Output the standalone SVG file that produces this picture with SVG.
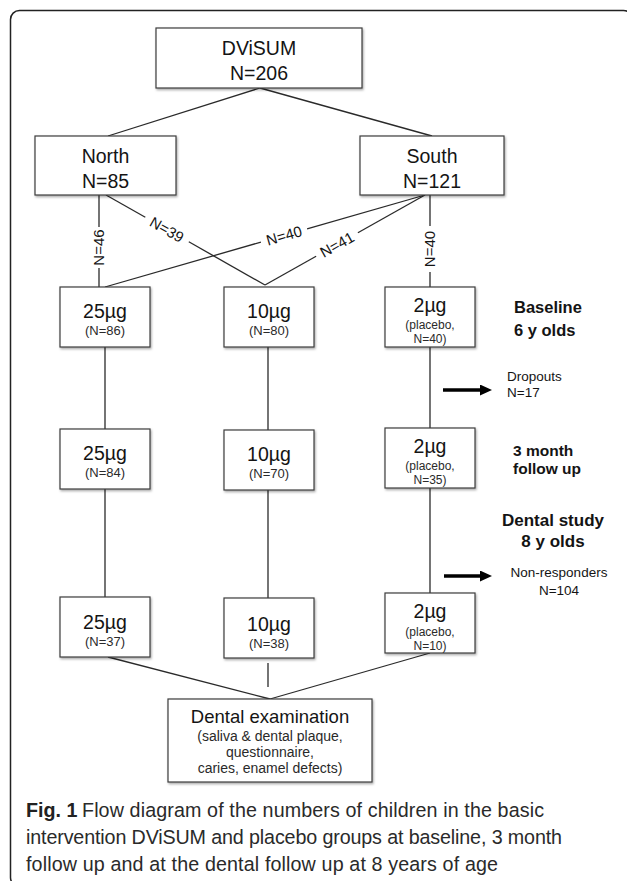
<svg xmlns="http://www.w3.org/2000/svg" width="627" height="881" viewBox="0 0 627 881">
<defs>
<filter id="sh" x="-10%" y="-10%" width="130%" height="130%">
<feDropShadow dx="1" dy="1.5" stdDeviation="0.8" flood-color="#000" flood-opacity="0.35"/>
</filter>
<marker id="ah" viewBox="0 0 12 11" refX="1" refY="5.5" markerWidth="12" markerHeight="11" markerUnits="userSpaceOnUse" orient="auto">
<path d="M0,0 L12,5.5 L0,11 z" fill="#000"/>
</marker>
</defs>
<style>
.box{fill:#fff;stroke:#3c3c3c;stroke-width:1.2;filter:url(#sh)}
.ln{stroke:#2a2a2a;stroke-width:1.3;fill:none}
.arr{stroke:#000;stroke-width:3.5;fill:none}
text{font-family:"Liberation Sans",Arial,sans-serif;fill:#141414}
.m{font-size:19.5px;text-anchor:middle}
.s{font-size:13px;text-anchor:middle;fill:#2a2a2a}
.p{font-size:12px;text-anchor:middle;fill:#2a2a2a}
.lab{font-size:15px;text-anchor:middle}
.b{font-weight:bold}
.side{font-size:13.5px}
.cap{font-size:19.7px;fill:#2a2a2a}
</style>
<rect x="10.5" y="10.5" width="622" height="876" rx="9" fill="none" stroke="#222" stroke-width="1.5"/>

<g id="connectors">
<line class="ln" x1="260" y1="88" x2="108" y2="136"/>
<line class="ln" x1="260" y1="88" x2="432" y2="136"/>
<line class="ln" x1="99" y1="195" x2="99" y2="227"/>
<line class="ln" x1="99" y1="268" x2="99" y2="287"/>
<line class="ln" x1="106" y1="195" x2="145.3" y2="217.2"/>
<line class="ln" x1="188.8" y1="241.8" x2="265" y2="285"/>
<line class="ln" x1="425" y1="195" x2="307.1" y2="228.9"/>
<line class="ln" x1="260.9" y1="242.1" x2="105" y2="287"/>
<line class="ln" x1="425" y1="195" x2="357.9" y2="232.7"/>
<line class="ln" x1="316.1" y1="256.3" x2="265" y2="285"/>
<line class="ln" x1="430" y1="195" x2="430" y2="226"/>
<line class="ln" x1="430" y1="272" x2="430" y2="287"/>
<line class="ln" x1="105" y1="347" x2="105" y2="429"/>
<line class="ln" x1="105" y1="489" x2="105" y2="597"/>
<line class="ln" x1="268" y1="347" x2="268" y2="430"/>
<line class="ln" x1="268" y1="490" x2="268" y2="598"/>
<line class="ln" x1="430" y1="347" x2="430" y2="428"/>
<line class="ln" x1="430" y1="488" x2="430" y2="593"/>
<line class="ln" x1="108" y1="657" x2="270" y2="699"/>
<line class="ln" x1="430" y1="653" x2="270" y2="699"/>
<line class="ln" x1="268" y1="663" x2="268" y2="687"/>
<text class="lab" transform="translate(99,247.5) rotate(-90)" x="0" y="5.4">N=46</text>
<text class="lab" transform="translate(167,229.5) rotate(29.5)" x="0" y="5.4">N=39</text>
<text class="lab" transform="translate(284,235.5) rotate(-16)" x="0" y="5.4">N=40</text>
<text class="lab" transform="translate(337,244.5) rotate(-29.4)" x="0" y="5.4">N=41</text>
<text class="lab" transform="translate(430,249) rotate(-90)" x="0" y="5.4">N=40</text>
<line class="arr" x1="443" y1="390" x2="481" y2="390" marker-end="url(#ah)"/>
<line class="arr" x1="444" y1="576" x2="481" y2="576" marker-end="url(#ah)"/>
</g>

<g id="dvisum">
<rect class="box" x="156" y="28" width="206" height="60"/>
<text class="m" x="259" y="55">DViSUM</text>
<text class="m" x="259" y="80">N=206</text>
</g>
<g id="north">
<rect class="box" x="35" y="136" width="141" height="59"/>
<text class="m" x="105.5" y="163">North</text>
<text class="m" x="105.5" y="188">N=85</text>
</g>
<g id="south">
<rect class="box" x="360" y="136" width="144" height="59"/>
<text class="m" x="432" y="163">South</text>
<text class="m" x="432" y="188">N=121</text>
</g>

<g id="b25-1">
<rect class="box" x="60" y="287" width="90" height="60"/>
<text class="m" x="105" y="318">25µg</text>
<text class="s" x="105" y="335">(N=86)</text>
</g>
<g id="b10-1">
<rect class="box" x="224" y="287" width="90" height="60"/>
<text class="m" x="269" y="318">10µg</text>
<text class="s" x="269" y="335">(N=80)</text>
</g>
<g id="b2-1">
<rect class="box" x="385" y="287" width="90" height="60"/>
<text class="m" x="430" y="312">2µg</text>
<text class="p" x="430" y="329">(placebo,</text>
<text class="p" x="430" y="343">N=40)</text>
</g>

<g id="b25-2">
<rect class="box" x="60" y="429" width="90" height="60"/>
<text class="m" x="105" y="460">25µg</text>
<text class="s" x="105" y="477">(N=84)</text>
</g>
<g id="b10-2">
<rect class="box" x="224" y="430" width="90" height="60"/>
<text class="m" x="269" y="461">10µg</text>
<text class="s" x="269" y="478">(N=70)</text>
</g>
<g id="b2-2">
<rect class="box" x="385" y="428" width="90" height="60"/>
<text class="m" x="430" y="453">2µg</text>
<text class="p" x="430" y="470">(placebo,</text>
<text class="p" x="430" y="484">N=35)</text>
</g>

<g id="b25-3">
<rect class="box" x="60" y="597" width="90" height="60"/>
<text class="m" x="105" y="629">25µg</text>
<text class="s" x="105" y="646">(N=37)</text>
</g>
<g id="b10-3">
<rect class="box" x="224" y="598" width="90" height="60"/>
<text class="m" x="269" y="631">10µg</text>
<text class="s" x="269" y="648">(N=38)</text>
</g>
<g id="b2-3">
<rect class="box" x="385" y="593" width="90" height="60"/>
<text class="m" x="430" y="618">2µg</text>
<text class="p" x="430" y="636">(placebo,</text>
<text class="p" x="430" y="650">N=10)</text>
</g>

<g id="dental">
<rect class="box" x="168" y="699" width="204" height="83"/>
<text class="m" x="270" y="723" style="font-size:18.5px">Dental examination</text>
<text class="s" x="270" y="741" style="font-size:14px">(saliva &amp; dental plaque,</text>
<text class="s" x="270" y="757" style="font-size:14px">questionnaire,</text>
<text class="s" x="270" y="773" style="font-size:14px">caries, enamel defects)</text>
</g>

<g id="labels">
<text class="b" x="514" y="313" style="font-size:16.5px">Baseline</text>
<text class="b" x="514" y="336" style="font-size:16.5px">6 y olds</text>
<text class="b" x="513" y="456" style="font-size:15.5px">3 month</text>
<text class="b" x="513" y="474" style="font-size:15.5px">follow up</text>
<text class="b" x="553" y="526" style="font-size:17px;text-anchor:middle">Dental study</text>
<text class="b" x="553" y="547" style="font-size:17px;text-anchor:middle">8 y olds</text>
<text class="side" x="507" y="381">Dropouts</text>
<text class="side" x="507" y="397">N=17</text>
<text class="side" x="559" y="577" style="text-anchor:middle">Non-responders</text>
<text class="side" x="559" y="595" style="text-anchor:middle">N=104</text>
</g>

<g id="caption">
<text class="cap b" x="26" y="817" style="fill:#222">Fig. 1</text>
<text class="cap" x="82" y="817" textLength="462" lengthAdjust="spacing">Flow diagram of the numbers of children in the basic</text>
<text class="cap" x="26" y="844" textLength="536" lengthAdjust="spacing">intervention DViSUM and placebo groups at baseline, 3 month</text>
<text class="cap" x="26" y="871" textLength="472" lengthAdjust="spacing">follow up and at the dental follow up at 8 years of age</text>
</g>
</svg>
